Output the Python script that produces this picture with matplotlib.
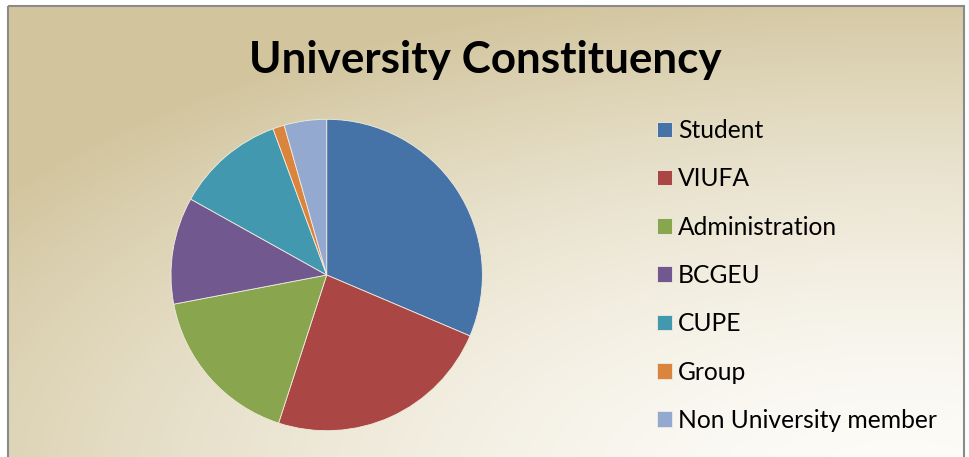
import numpy as np
import matplotlib
matplotlib.use("Agg")
import matplotlib.pyplot as plt
from matplotlib.patches import Rectangle

# ---------------------------------------------------------
# Data (share of respondents, %)
# ---------------------------------------------------------
categories = ["Student", "VIUFA", "Administration", "BCGEU",
              "CUPE", "Group", "Non University member"]
shares = [31.4, 23.6, 17.0, 11.1, 11.3, 1.2, 4.4]
colors = ["#4572A7", "#AA4643", "#89A54E", "#71588F",
          "#4198AF", "#DB843D", "#93A9CF"]

W, H = 970, 457
fig = plt.figure(figsize=(W / 100, H / 100), dpi=100)

# Background: parchment style gradient inside a grey frame
yy, xx = np.mgrid[0:H, 0:W]
w = np.sqrt(((xx - 900) / 1100.0) ** 2 + ((yy - 480) / 500.0) ** 2)
w = np.clip(w, 0, 1) ** 1.6
tan = np.array([210, 197, 158]) / 255.0
light = np.array([253, 252, 248]) / 255.0
img = light[None, None, :] * (1 - w[..., None]) + tan[None, None, :] * w[..., None]
inside = (xx >= 9) & (xx <= 964) & (yy >= 6)
img[~inside] = 1.0

bg = fig.add_axes([0, 0, 1, 1], zorder=0)
bg.imshow(img, extent=(0, W, H, 0), aspect="auto", interpolation="bilinear")
bg.add_patch(Rectangle((8.5, 5.5), 956, H, fill=False,
                       edgecolor="#8a8a8a", linewidth=1.5))
bg.set_xlim(0, W)
bg.set_ylim(H, 0)
bg.axis("off")

# Pie
cx, cy, r = 326.7, 275.0, 155.7
ax = fig.add_axes([(cx - r) / W, (H - cy - r) / H, 2 * r / W, 2 * r / H],
                  zorder=1)
wedges, _ = ax.pie(shares, colors=colors, startangle=90, counterclock=False,
                   radius=1.0,
                   wedgeprops=dict(edgecolor="#f0ece0", linewidth=0.6))
ax.set_xlim(-1, 1)
ax.set_ylim(-1, 1)
ax.set_aspect("equal")
ax.axis("off")

# Title
fig.text(485 / W, 1 - 60 / H, "University Constituency",
         ha="center", va="center", fontsize=31.7, fontweight="bold",
         family="Lato", color="black", zorder=2)

# Legend
leg = fig.legend(wedges, categories, loc="upper left",
                 bbox_to_anchor=(657 / W, 1 - 119 / H),
                 frameon=False, prop={"family": "Lato", "size": 17.7},
                 handlelength=0.6, handleheight=0.6,
                 handletextpad=0.25, labelspacing=1.03,
                 borderaxespad=0, borderpad=0)
leg.set_zorder(3)

fig.savefig("out.png", dpi=100)
